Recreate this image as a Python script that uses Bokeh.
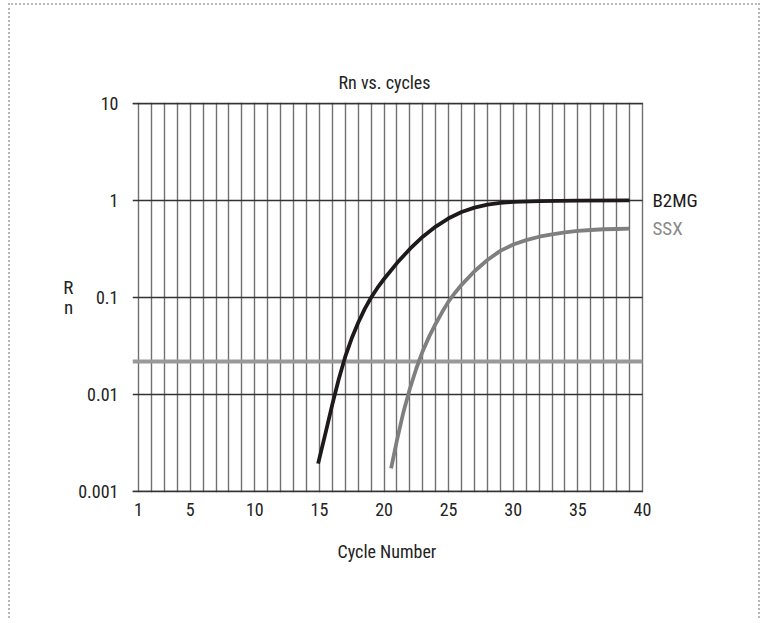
from bokeh.plotting import figure
from bokeh.models import FixedTicker, CustomJSTickFormatter, Label, Grid, Title
from bokeh.embed import file_html
from bokeh.resources import INLINE

# ---- data ----
b2mg_cycles = [14.9, 15.5, 16, 16.5, 17, 17.5, 18, 18.5, 19, 19.5, 20, 21, 22, 23, 24,
               25, 26, 27, 28, 29, 30, 32, 35, 39]
b2mg_rn = [0.00195, 0.00417, 0.00794, 0.0145, 0.0246, 0.0380, 0.0550, 0.0759, 0.100, 0.126,
           0.155, 0.226, 0.316, 0.422, 0.537, 0.653, 0.759, 0.841, 0.902, 0.940, 0.962,
           0.982, 0.993, 1.0]

ssx_cycles = [20.55, 21, 21.5, 22, 22.5, 23, 23.5, 24, 24.5, 25, 25.5, 26, 27, 28, 29, 30,
              31, 32, 33, 34, 35, 36, 37, 38, 39]
ssx_rn = [0.00174, 0.00339, 0.00661, 0.0115, 0.0186, 0.0282, 0.0398, 0.0537, 0.0708, 0.0912,
          0.112, 0.135, 0.186, 0.243, 0.302, 0.351, 0.389, 0.422, 0.447, 0.468, 0.484,
          0.495, 0.504, 0.507, 0.511]

threshold = 0.022

x_tick_values = [1, 5, 10, 15, 20, 25, 30, 35, 40]
x_grid_values = list(range(1, 41))
y_tick_values = [0.001, 0.01, 0.1, 1, 10]

cycle_start = 0.536   # left edge of the grid
cycle_end = 40        # right edge of the grid
x_view_end = 45.42    # extra room on the right for series names
y_view = (0.000985, 10.15)  # a hair of room so the frame edges are fully drawn

FONT = "Roboto Condensed"
TXT = "#222222"

p = figure(width=752, height=615, x_range=(cycle_start, x_view_end), y_range=y_view,
           y_axis_type="log", output_backend="svg", toolbar_location=None,
           min_border_left=122, min_border_right=50, min_border_top=97, min_border_bottom=128)
p.styles = {"margin-left": "8px", "margin-top": "3px",
            "border-top": "2px dotted #b8b8b8", "border-left": "2px dotted #b8b8b8",
            "border-right": "2px dotted #b8b8b8"}
p.outline_line_color = None

p.title.text = "Rn vs. cycles"
p.title.align = "left"
p.title.offset = 206
p.title.text_font = FONT
p.title.text_font_size = "18px"
p.title.text_font_style = "normal"
p.title.text_color = TXT
p.title.standoff = 20

# grids
p.xgrid.ticker = FixedTicker(ticks=x_grid_values)
p.xgrid.grid_line_color = "#707070"
p.xgrid.grid_line_width = 1.4
p.ygrid.ticker = FixedTicker(ticks=y_tick_values)
p.ygrid.grid_line_color = "#333333"
p.ygrid.grid_line_width = 1.3
p.ygrid.cross_bounds = (cycle_start, cycle_end)
# frame edges (left, top, bottom)
p.add_layout(Grid(dimension=0, ticker=FixedTicker(ticks=[cycle_start]),
                  grid_line_color="#333333", grid_line_width=2.0))
p.add_layout(Grid(dimension=1, ticker=FixedTicker(ticks=[y_tick_values[0], y_tick_values[-1]]),
                  grid_line_color="#333333", grid_line_width=1.6,
                  cross_bounds=(cycle_start, cycle_end)))

# axes
p.xaxis.ticker = FixedTicker(ticks=x_tick_values)
p.yaxis.ticker = FixedTicker(ticks=y_tick_values)
p.yaxis.formatter = CustomJSTickFormatter(code="return String(tick);")
for ax in (p.xaxis[0], p.yaxis[0]):
    ax.axis_line_color = None
    ax.major_tick_line_color = None
    ax.minor_tick_line_color = None
    ax.major_label_text_font = FONT
    ax.major_label_text_font_size = "18px"
    ax.major_label_text_color = TXT
p.xaxis.major_label_standoff = 4
p.yaxis.major_label_standoff = 8

p.yaxis.axis_label = "R\nn"
p.yaxis.axis_label_orientation = "horizontal"
p.yaxis.axis_label_text_font = FONT
p.yaxis.axis_label_text_font_size = "19px"
p.yaxis.axis_label_text_font_style = "normal"
p.yaxis.axis_label_text_color = TXT
p.yaxis.axis_label_text_line_height = 0.85
p.yaxis.axis_label_standoff = 2

p.add_layout(Title(text="Cycle Number", align="left", offset=205, text_font=FONT,
                   text_font_size="18px", text_font_style="normal", text_color=TXT,
                   standoff=40), "below")

# threshold line
p.line([cycle_start, cycle_end], [threshold, threshold], line_color="#999999", line_width=4)

# curves
p.line(b2mg_cycles, b2mg_rn, line_color="#1e1a1b", line_width=3.8, line_join="round")
p.line(ssx_cycles, ssx_rn, line_color="#7f7f7f", line_width=3.8, line_join="round")

# series names
p.add_layout(Label(x=cycle_end, y=b2mg_rn[-1], x_offset=10, text="B2MG", text_baseline="middle",
                   text_font=FONT, text_font_size="19px", text_color="#1e1a1b"))
p.add_layout(Label(x=cycle_end, y=ssx_rn[-1], x_offset=10, text="SSX", text_baseline="middle",
                   text_font=FONT, text_font_size="19px", text_color="#8a8a8a"))

open("out.html", "w").write(file_html(p, INLINE))
